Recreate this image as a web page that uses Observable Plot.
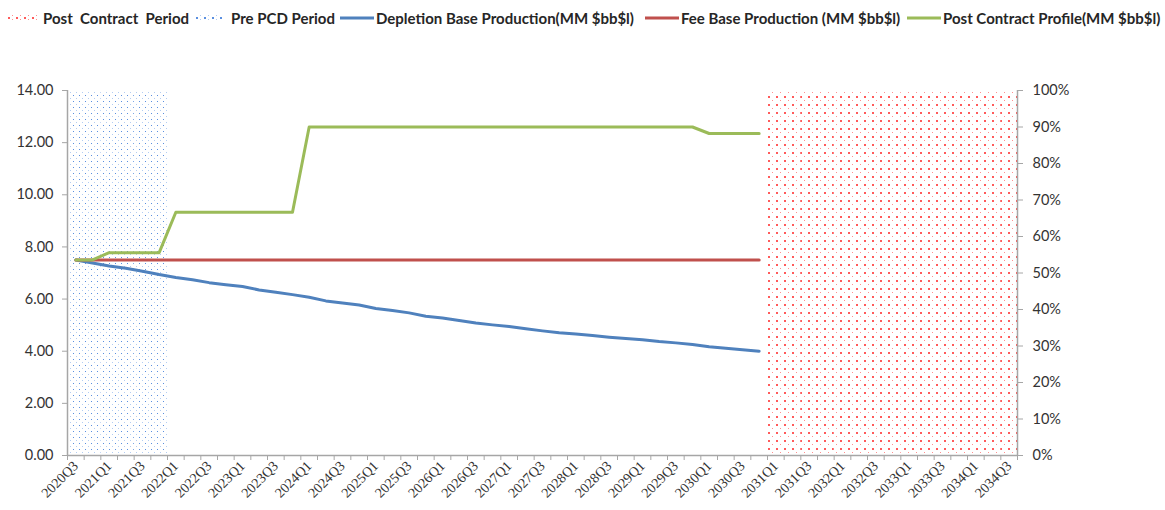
<!DOCTYPE html>
<html><head><meta charset="utf-8">
<script src="https://cdn.jsdelivr.net/npm/d3@7"></script>
<script src="https://cdn.jsdelivr.net/npm/@observablehq/plot@0.6"></script>
<style>
body{margin:0;background:#fff;font-family:Lato,"Noto Sans",sans-serif;}
#legend{position:relative;height:40px;width:1165px;font-weight:bold;font-size:15px;color:#262626;}
.item{position:absolute;top:8px;height:20px;display:flex;align-items:center;white-space:pre;}
.item svg{display:block;}
</style>
</head><body>
<div id="legend"></div>
<div id="chart"></div>
<script>
// ---- data ----
const quarters = ["2020Q3","2020Q4","2021Q1","2021Q2","2021Q3","2021Q4","2022Q1","2022Q2","2022Q3","2022Q4",
"2023Q1","2023Q2","2023Q3","2023Q4","2024Q1","2024Q2","2024Q3","2024Q4","2025Q1","2025Q2","2025Q3","2025Q4",
"2026Q1","2026Q2","2026Q3","2026Q4","2027Q1","2027Q2","2027Q3","2027Q4","2028Q1","2028Q2","2028Q3","2028Q4",
"2029Q1","2029Q2","2029Q3","2029Q4","2030Q1","2030Q2","2030Q3","2030Q4","2031Q1","2031Q2","2031Q3","2031Q4",
"2032Q1","2032Q2","2032Q3","2032Q4","2033Q1","2033Q2","2033Q3","2033Q4","2034Q1","2034Q2","2034Q3"];

const depletionBase = [7.50,7.38,7.27,7.18,7.07,6.94,6.83,6.74,6.63,6.55,6.48,6.35,6.26,6.17,6.07,5.93,5.85,5.77,
5.64,5.56,5.47,5.34,5.27,5.18,5.08,5.01,4.95,4.86,4.78,4.71,4.66,4.60,4.54,4.49,4.44,4.37,4.32,4.26,4.17,4.11,4.06,4.00];
const feeBase = [7.5,7.5,7.5,7.5,7.5,7.5,7.5,7.5,7.5,7.5,7.5,7.5,7.5,7.5,7.5,7.5,7.5,7.5,7.5,7.5,7.5,
7.5,7.5,7.5,7.5,7.5,7.5,7.5,7.5,7.5,7.5,7.5,7.5,7.5,7.5,7.5,7.5,7.5,7.5,7.5,7.5,7.5];
const postContractProfile = [7.5,7.5,7.78,7.78,7.78,7.78,9.33,9.33,9.33,9.33,9.33,9.33,9.33,9.33,
12.6,12.6,12.6,12.6,12.6,12.6,12.6,12.6,12.6,12.6,12.6,12.6,12.6,12.6,12.6,12.6,12.6,12.6,12.6,12.6,
12.6,12.6,12.6,12.6,12.35,12.35,12.35,12.35];

const prePCDQuarters = ["2020Q3","2020Q4","2021Q1","2021Q2","2021Q3","2021Q4"];
const prePCDShare = [1,1,1,1,1,1];
const postContractQuarters = ["2031Q1","2031Q2","2031Q3","2031Q4","2032Q1","2032Q2","2032Q3","2032Q4",
"2033Q1","2033Q2","2033Q3","2033Q4","2034Q1","2034Q2","2034Q3"];
const postContractShare = [1,1,1,1,1,1,1,1,1,1,1,1,1,1,1];

const leftTicks = [0,2,4,6,8,10,12,14];
const rightTicks = [0,0.1,0.2,0.3,0.4,0.5,0.6,0.7,0.8,0.9,1.0];

const seriesNames = ["Depletion Base Production(MM $bb$l)","Fee Base Production (MM $bb$l)","Post Contract Profile(MM $bb$l)"];
const periodNames = ["Post  Contract  Period","Pre PCD Period"];

// ---- styles ----
const C = {blue:"#4f81bd", red:"#c0504d", green:"#9bbb59", axis:"#a6a6a6", text:"#333333",
           dotBlue:"#5a8fe0", dotBlueLight:"#b3cdf2", dotRed:"#ff5a5a", dotRedLight:"#ff9090"};
const yMax = leftTicks[leftTicks.length-1];

const idx = q => quarters.indexOf(q);
const rows = (vals, name) => vals.map((v,i)=>({x:i+0.5, v, name}));
const shadeRows = (qs, share) => qs.map((q,k)=>({i:idx(q), y:share[k]*yMax}));
const boundaries = d3.range(quarters.length+1);
const labelTicks = quarters.map((q,i)=>i).filter(i=>i%2===0).map(i=>i+0.5);

const chart = Plot.plot({
  width:1165, height:470,
  marginTop:50, marginBottom:55, marginLeft:67, marginRight:148,
  x:{type:"linear", domain:[0, quarters.length], label:null},
  y:{domain:[0,yMax], label:null},
  style:{fontFamily:"Lato, 'Noto Sans', sans-serif", fontSize:"14px", color:C.text, background:"#fff", overflow:"visible"},
  marks:[
    Plot.rectY(shadeRows(prePCDQuarters, prePCDShare), {x1:"i", x2:d=>d.i+1, y1:0, y2:"y", fill:"url(#dotsBlue)", ariaLabel:"prepcd"}),
    Plot.rectY(shadeRows(postContractQuarters, postContractShare), {x1:"i", x2:d=>d.i+1, y1:0, y2:"y", fill:"url(#dotsRed)", ariaLabel:"postcontract"}),
    Plot.ruleX([0, quarters.length], {stroke:C.axis, strokeWidth:1.5}),
    Plot.ruleY([0], {stroke:C.axis, strokeWidth:1.5}),
    Plot.axisY({anchor:"left", ticks:leftTicks, tickFormat:d=>d.toFixed(2), tickSize:5, tickPadding:9, stroke:C.axis, fill:C.text, fontSize:14.5, label:null}),
    Plot.axisY({anchor:"right", ticks:rightTicks.map(p=>p*yMax), tickFormat:v=>Math.round(v/yMax*100)+"%", tickSize:5, tickPadding:10, stroke:C.axis, fill:C.text, fontSize:14.5, label:null}),
    Plot.axisX({anchor:"bottom", ticks:boundaries, tickFormat:()=>"", tickSize:5, stroke:C.axis, label:null}),
    Plot.axisX({anchor:"bottom", ticks:labelTicks, tickFormat:v=>quarters[v-0.5], tickSize:0, tickPadding:8, tickRotate:-45, fill:C.text, fontSize:14, fontFamily:"'Liberation Serif', serif", ariaLabel:"xlabels", label:null}),
    Plot.line(rows(depletionBase, seriesNames[0]), {x:"x", y:"v", stroke:C.blue, strokeWidth:3}),
    Plot.line(rows(feeBase, seriesNames[1]), {x:"x", y:"v", stroke:C.red, strokeWidth:3}),
    Plot.line(rows(postContractProfile, seriesNames[2]), {x:"x", y:"v", stroke:C.green, strokeWidth:3})
  ]
});

function dotPattern(defs, id, w, h, dots){
  const p = defs.append("pattern").attr("id",id).attr("patternUnits","userSpaceOnUse").attr("width",w).attr("height",h);
  dots.forEach(([x,y,s,c])=>p.append("rect").attr("x",x).attr("y",y).attr("width",s).attr("height",s).style("fill",c));
}
const svg = d3.select(chart);
const defs = svg.insert("defs", ":first-child");
dotPattern(defs, "dotsBlue", 6, 6, [[1,1,1,C.dotBlue],[4,4,1,C.dotBlueLight]]);
dotPattern(defs, "dotsRed", 8, 8, [[0,0,2,C.dotRed],[4,4,1,C.dotRedLight]]);
svg.selectAll('g[aria-label="prepcd"] rect').attr("fill","url(#dotsBlue)");
svg.selectAll('g[aria-label="postcontract"] rect').attr("fill","url(#dotsRed)");
svg.selectAll('g[aria-label="xlabels"] text').style("font-family","'Liberation Serif', serif");
document.getElementById("chart").appendChild(chart);

// ---- legend ----
const legend = d3.select("#legend");
const legendItems = [
  {label:periodNames[0], kind:"pattern", fill:"url(#lgRed)", left:8, sw:30, gap:5},
  {label:periodNames[1], kind:"pattern", fill:"url(#lgBlue)", left:196, sw:27, gap:8},
  {label:seriesNames[0], kind:"line", color:C.blue, left:340, sw:34, gap:2},
  {label:seriesNames[1], kind:"line", color:C.red, left:645, sw:34, gap:2},
  {label:seriesNames[2], kind:"line", color:C.green, left:907, sw:34, gap:2}
];
const lgDefs = legend.append("svg").attr("width",0).attr("height",0).style("position","absolute").append("defs");
dotPattern(lgDefs, "lgRed", 8, 4, [[0,0,2,C.dotRed],[4,2,1,C.dotRedLight]]);
dotPattern(lgDefs, "lgBlue", 8, 4, [[0,0,2,C.dotBlue],[4,2,1,C.dotBlueLight]]);
legendItems.forEach(it=>{
  const d = legend.append("div").attr("class","item").style("left", it.left+"px");
  const s = d.append("svg").attr("width", it.sw).attr("height", 10).style("margin-right", it.gap+"px");
  if (it.kind==="line") s.append("line").attr("x1",0).attr("x2",it.sw).attr("y1",5).attr("y2",5).attr("stroke",it.color).attr("stroke-width",3);
  else s.append("rect").attr("x",0).attr("y",2).attr("width",it.sw).attr("height",6).attr("fill",it.fill);
  d.append("span").text(it.label);
});
</script>
</body></html>
